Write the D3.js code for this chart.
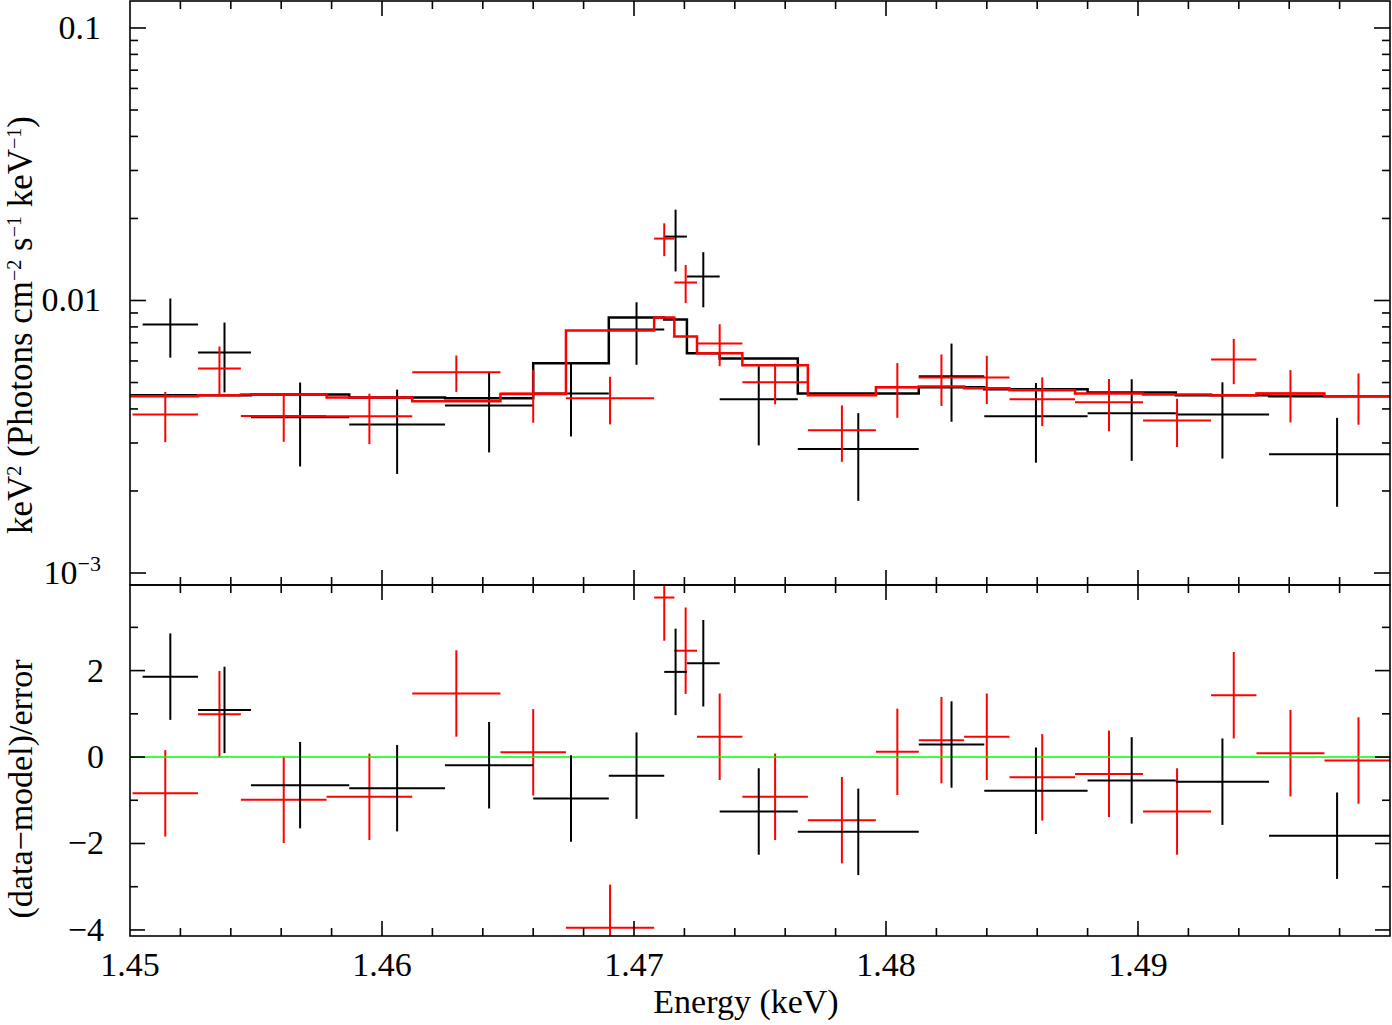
<!DOCTYPE html>
<html>
<head>
<meta charset="utf-8">
<script src="https://cdn.jsdelivr.net/npm/d3@7"></script>
<style>
  body { margin: 0; background: #fff; }
  svg text { font-family: "Liberation Serif", "DejaVu Serif", serif; fill: #000; }
</style>
</head>
<body>
<div id="chart"></div>
<script>
// bin edges (keV) for the two spectra
const blackEdges = [1.4505, 1.4527, 1.4548, 1.4587, 1.4625, 1.4660, 1.4690, 1.4712, 1.4721, 1.4734, 1.4765, 1.4813, 1.4839, 1.4880, 1.4915, 1.4952, 1.5006];
const redEdges = [1.4501, 1.4527, 1.4544, 1.4578, 1.4612, 1.4647, 1.4673, 1.4708, 1.4716, 1.4725, 1.4743, 1.4769, 1.4796, 1.4813, 1.4831, 1.4849, 1.4875, 1.4902, 1.4929, 1.4947, 1.4974, 1.5001];

// unfolded spectrum keV^2 (photons cm^-2 s^-1 keV^-1)
const blackFlux = [0.00817, 0.00645, 0.00373, 0.00351, 0.00412, 0.00456, 0.00783, 0.01716, 0.01224, 0.00434, 0.00285, 0.00527, 0.00376, 0.00386, 0.00382, 0.00273];
const blackErr = [0.0020, 0.00185, 0.00127, 0.0012, 0.00135, 0.00139, 0.00202, 0.00438, 0.0028, 0.0014, 0.00101, 0.00168, 0.00122, 0.00128, 0.00119, 0.00098];
const blackModel = [0.00449, 0.00449, 0.00452, 0.00441, 0.00438, 0.00588, 0.00866, 0.00852, 0.00640, 0.00613, 0.00456, 0.00480, 0.00472, 0.00460, 0.00449, 0.00445];

const redFlux = [0.00382, 0.00563, 0.00377, 0.00376, 0.00545, 0.00456, 0.00438, 0.01687, 0.01164, 0.00696, 0.00501, 0.00334, 0.0048, 0.00522, 0.00522, 0.00434, 0.00423, 0.00363, 0.00608, 0.00456, 0.00445];
const redErr = [0.0008, 0.00115, 0.00074, 0.00079, 0.00083, 0.001, 0.00087, 0.00233, 0.00186, 0.00122, 0.00085, 0.00078, 0.00109, 0.00112, 0.00105, 0.00088, 0.00092, 0.00073, 0.00115, 0.00099, 0.00095];
const redModel = [0.00445, 0.00449, 0.00452, 0.00441, 0.00427, 0.00454, 0.00776, 0.00866, 0.00738, 0.00640, 0.00578, 0.00449, 0.00480, 0.00484, 0.00476, 0.00468, 0.00456, 0.00452, 0.00449, 0.00456, 0.00445];

// residuals (data-model)/error, each with unit error
const blackResid = [1.86, 1.09, -0.65, -0.72, -0.19, -0.96, -0.43, 1.97, 2.17, -1.26, -1.73, 0.29, -0.78, -0.54, -0.57, -1.82];
const redResid = [-0.84, 0.99, -0.99, -0.92, 1.47, 0.11, -3.95, 3.69, 2.46, 0.47, -0.92, -1.46, 0.12, 0.39, 0.47, -0.47, -0.39, -1.26, 1.43, 0.09, -0.08];

const xTicks = [1.45, 1.46, 1.47, 1.48, 1.49];
const fluxTicks = [0.1, 0.01, 0.001];
const residTicks = [2, 0, -2, -4];

const width = 1392;
const height = 1025;
const left = 130, right = 1390;
const top1 = 1, bot1 = 585, top2 = 585, bot2 = 936;
const fs = 34;

const svg = d3.select('#chart').append('svg')
  .attr('width', width)
  .attr('height', height);

const x = d3.scaleLinear().domain([1.45, 1.50]).range([left, right]);
const yTop = d3.scaleLog().domain([Math.pow(10, -3.044), Math.pow(10, -0.901)]).range([bot1, top1]);
const yBot = d3.scaleLinear().domain([-4.14, 3.98]).range([bot2, top2]);

// clip paths for the two panels
const defs = svg.append('defs');
defs.append('clipPath').attr('id', 'clipTop').append('rect')
  .attr('x', left).attr('y', top1).attr('width', right - left).attr('height', bot1 - top1);
defs.append('clipPath').attr('id', 'clipBot').append('rect')
  .attr('x', left).attr('y', top2).attr('width', right - left).attr('height', bot2 - top2);

function toBins(edges, vals, errs) {
  return vals.map((v, i) => ({
    lo: edges[i], hi: edges[i + 1], mid: (edges[i] + edges[i + 1]) / 2,
    v: v, e: errs ? errs[i] : 1
  }));
}

function drawCrosses(g, bins, y, color) {
  const c = g.append('g').attr('stroke', color).attr('stroke-width', 2).attr('fill', 'none');
  c.selectAll('line.h').data(bins).enter().append('line')
    .attr('x1', d => x(d.lo)).attr('x2', d => x(d.hi))
    .attr('y1', d => y(d.v)).attr('y2', d => y(d.v));
  c.selectAll('line.v').data(bins).enter().append('line')
    .attr('x1', d => x(d.mid)).attr('x2', d => x(d.mid))
    .attr('y1', d => y(d.v - d.e)).attr('y2', d => y(d.v + d.e));
}

function drawModel(g, edges, model, color) {
  const pts = model.map((m, i) => [edges[i], m]);
  pts.push([edges[edges.length - 1], model[model.length - 1]]);
  pts.unshift([1.449, model[0]]);
  const line = d3.line().x(d => x(d[0])).y(d => yTop(d[1])).curve(d3.curveStepAfter);
  g.append('path').attr('d', line(pts))
    .attr('fill', 'none').attr('stroke', color).attr('stroke-width', 2.5);
}

// top panel
const gTop = svg.append('g').attr('clip-path', 'url(#clipTop)');
drawCrosses(gTop, toBins(blackEdges, blackFlux, blackErr), yTop, '#000');
drawModel(gTop, blackEdges, blackModel, '#000');
drawCrosses(gTop, toBins(redEdges, redFlux, redErr), yTop, '#ff0000');
drawModel(gTop, redEdges, redModel, '#ff0000');

// bottom panel
const gBot = svg.append('g').attr('clip-path', 'url(#clipBot)');
drawCrosses(gBot, toBins(redEdges, redResid), yBot, '#ff0000');
gBot.append('line')
  .attr('x1', left).attr('x2', right).attr('y1', yBot(0)).attr('y2', yBot(0))
  .attr('stroke', '#00ff00').attr('stroke-width', 1.5);
drawCrosses(gBot, toBins(blackEdges, blackResid), yBot, '#000');

// frames
const axes = svg.append('g').attr('stroke', '#000').attr('stroke-width', 1.6).attr('fill', 'none');
axes.append('rect').attr('x', left).attr('y', top1).attr('width', right - left).attr('height', bot1 - top1);
axes.append('rect').attr('x', left).attr('y', top2).attr('width', right - left).attr('height', bot2 - top2);

// x ticks (minor every 0.002 keV) on both panels, top and bottom edges
const xMinor = d3.range(0, 26).map(i => 1.45 + i * 0.002).filter(v => v < 1.4999);
function xTickMarks(yEdge, dir) {
  xMinor.forEach(v => {
    const major = xTicks.some(t => Math.abs(t - v) < 1e-6);
    const len = major ? 15 : 8;
    if (Math.abs(v - 1.45) < 1e-6) return;
    axes.append('line').attr('x1', x(v)).attr('x2', x(v))
      .attr('y1', yEdge).attr('y2', yEdge + dir * len);
  });
}
xTickMarks(top1, 1);
xTickMarks(bot1, -1);
xTickMarks(top2, 1);
xTickMarks(bot2, -1);

// top panel y ticks (log)
const logTicks = [];
for (let p = -4; p <= -1; p++) {
  for (let m = 1; m <= 9; m++) {
    const v = m * Math.pow(10, p);
    const yy = yTop(v);
    if (yy > top1 + 1 && yy < bot1 - 1) logTicks.push({ v: v, major: m === 1 });
  }
}
logTicks.forEach(t => {
  const len = t.major ? 16 : 8;
  axes.append('line').attr('x1', left).attr('x2', left + len).attr('y1', yTop(t.v)).attr('y2', yTop(t.v));
  axes.append('line').attr('x1', right).attr('x2', right - len).attr('y1', yTop(t.v)).attr('y2', yTop(t.v));
});

// bottom panel y ticks (every unit, major at even)
d3.range(-4, 4).forEach(v => {
  const len = (v % 2 === 0) ? 15 : 8;
  axes.append('line').attr('x1', left).attr('x2', left + len).attr('y1', yBot(v)).attr('y2', yBot(v));
  axes.append('line').attr('x1', right).attr('x2', right - len).attr('y1', yBot(v)).attr('y2', yBot(v));
});

// labels
const labels = svg.append('g').attr('font-size', fs);
xTicks.forEach(t => {
  labels.append('text').attr('x', x(t)).attr('y', 976)
    .attr('text-anchor', 'middle').text(d3.format('.2f')(t));
});
fluxTicks.forEach(t => {
  const txt = labels.append('text').attr('x', 101).attr('y', yTop(t) + 11).attr('text-anchor', 'end');
  if (t < 0.005) {
    txt.append('tspan').text('10');
    txt.append('tspan').attr('font-size', 22).attr('dy', -13).text('\u22123');
  } else {
    txt.text(String(t));
  }
});
residTicks.forEach(t => {
  labels.append('text').attr('x', 104).attr('y', yBot(t) + 11)
    .attr('text-anchor', 'end').text(t < 0 ? '\u2212' + Math.abs(t) : String(t));
});

labels.append('text').attr('x', 746).attr('y', 1013).attr('text-anchor', 'middle').text('Energy (keV)');

const yl = labels.append('text').attr('transform', 'translate(32,325) rotate(-90)')
  .attr('text-anchor', 'middle').attr('font-size', 35);
yl.append('tspan').text('keV');
yl.append('tspan').attr('font-size', 20).attr('dy', -11).text('2');
yl.append('tspan').attr('dy', 11).text(' (Photons cm');
yl.append('tspan').attr('font-size', 20).attr('dy', -11).text('\u22122');
yl.append('tspan').attr('dy', 11).text(' s');
yl.append('tspan').attr('font-size', 20).attr('dy', -11).text('\u22121');
yl.append('tspan').attr('dy', 11).text(' keV');
yl.append('tspan').attr('font-size', 20).attr('dy', -11).text('\u22121');
yl.append('tspan').attr('dy', 11).text(')');

labels.append('text').attr('transform', 'translate(32,789) rotate(-90)')
  .attr('text-anchor', 'middle').attr('font-size', 34).text('(data\u2212model)/error');
</script>
</body>
</html>
